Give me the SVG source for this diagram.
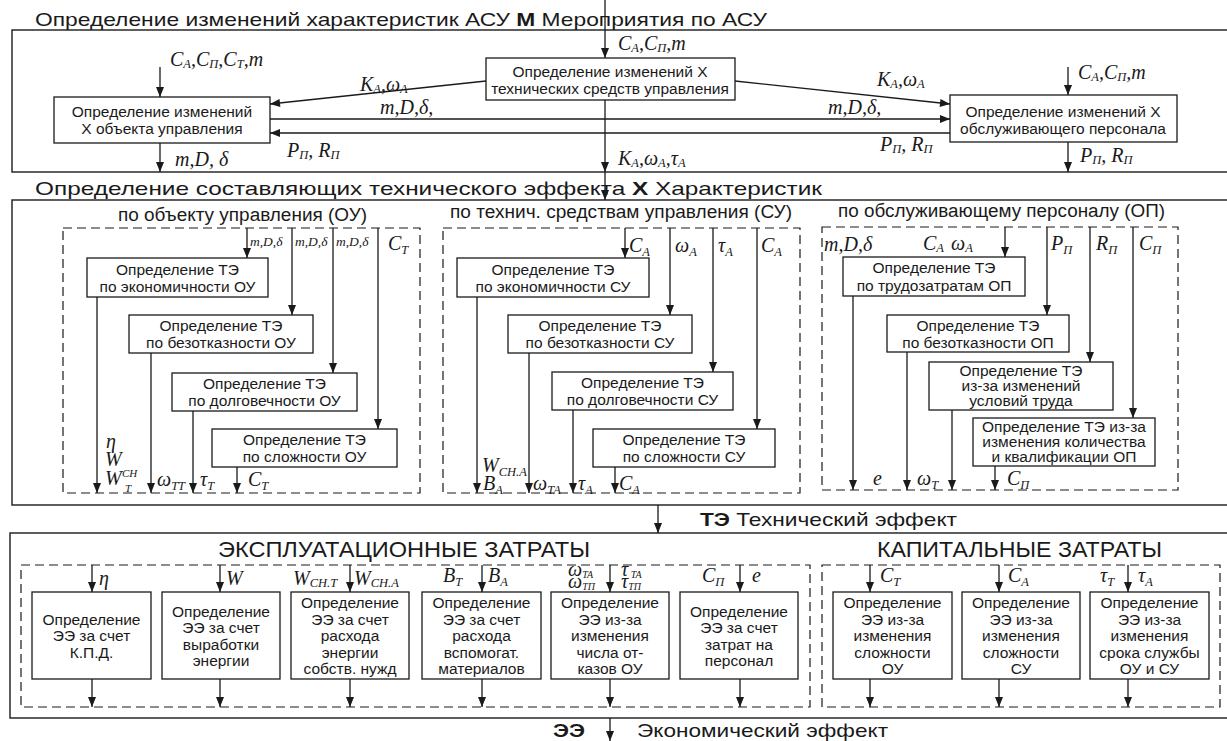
<svg xmlns="http://www.w3.org/2000/svg" width="1227" height="741" viewBox="0 0 1227 741">
<defs>
<style>
.t{font-family:"Liberation Sans",Arial,sans-serif;font-size:15.5px;fill:#1a1a1a;text-anchor:middle}
.h{font-family:"Liberation Sans",Arial,sans-serif;font-size:19px;fill:#1a1a1a}
.h2{font-family:"Liberation Sans",Arial,sans-serif;font-size:18px;fill:#1a1a1a}
.h3{font-family:"Liberation Sans",Arial,sans-serif;font-size:22px;fill:#1a1a1a}
.b{font-weight:bold}
.m{font-family:"Liberation Serif","DejaVu Serif",serif;font-style:italic;font-size:20px;fill:#1a1a1a}
.ms{font-size:13.5px}
.s{font-size:12.5px;baseline-shift:-2px}
.s2{font-size:12.5px;baseline-shift:-4px}
.s3{font-size:10px;baseline-shift:-2px}
.box{fill:#fff;stroke:#1a1a1a;stroke-width:1.3}
.frame{fill:none;stroke:#1a1a1a;stroke-width:1.4}
.dash{fill:none;stroke:#1a1a1a;stroke-width:1.2;stroke-dasharray:9 5}
.ar{fill:none;stroke:#1a1a1a;stroke-width:1.3;marker-end:url(#a)}
</style>
<marker id="a" viewBox="0 0 10 8" refX="10" refY="4" markerWidth="11" markerHeight="8" orient="auto" markerUnits="userSpaceOnUse"><path d="M0,0 L10,4 L0,8 z" fill="#1a1a1a"/></marker>
</defs>
<rect width="1227" height="741" fill="#fff"/>

<g id="frames">
<rect class="frame" x="12" y="30" width="1225" height="142"/>
<rect class="frame" x="12" y="200" width="1225" height="305"/>
<rect class="frame" x="10" y="533" width="1227" height="185"/>
<rect class="dash" x="63" y="228" width="357" height="265"/>
<rect class="dash" x="443" y="228" width="357" height="265"/>
<rect class="dash" x="822" y="227" width="356" height="263"/>
<rect class="dash" x="21" y="565" width="789" height="142"/>
<rect class="dash" x="822" y="565" width="398" height="142"/>
</g>

<g id="headings">
<text class="h" x="35" y="26" textLength="732" lengthAdjust="spacingAndGlyphs">Определение изменений характеристик АСУ <tspan class="b">М</tspan> Мероприятия по АСУ</text>
<text class="h" x="35" y="195" textLength="787" lengthAdjust="spacingAndGlyphs">Определение составляющих технического эффекта <tspan class="b">Х</tspan> Характеристик</text>
<text class="h2" x="118" y="221" textLength="249" lengthAdjust="spacingAndGlyphs">по объекту управления (ОУ)</text>
<text class="h2" x="450" y="218" textLength="342" lengthAdjust="spacingAndGlyphs">по технич. средствам управления (СУ)</text>
<text class="h2" x="838" y="217" textLength="327" lengthAdjust="spacingAndGlyphs">по обслуживающему персоналу (ОП)</text>
<text class="h" x="700" y="526" textLength="257" lengthAdjust="spacingAndGlyphs"><tspan class="b">ТЭ</tspan> Технический эффект</text>
<text class="h3" x="218" y="557" textLength="372" lengthAdjust="spacingAndGlyphs">ЭКСПЛУАТАЦИОННЫЕ ЗАТРАТЫ</text>
<text class="h3" x="877" y="557" textLength="285" lengthAdjust="spacingAndGlyphs">КАПИТАЛЬНЫЕ ЗАТРАТЫ</text>
<text class="h b" x="553" y="737" textLength="32" lengthAdjust="spacingAndGlyphs">ЭЭ</text>
<text class="h" x="637" y="737" textLength="251" lengthAdjust="spacingAndGlyphs">Экономический эффект</text>
</g>

<g id="n-obj-x"><rect class="box" x="54" y="97" width="216" height="46"/><text class="t" x="162" y="117">Определение изменений</text><text class="t" x="162" y="134">Х объекта управления</text></g>
<g id="n-tsu-x"><rect class="box" x="486" y="58" width="249" height="42"/><text class="t" x="610" y="77">Определение изменений Х</text><text class="t" x="610" y="94">технических средств управления</text></g>
<g id="n-op-x"><rect class="box" x="950" y="95" width="227" height="47"/><text class="t" x="1063" y="117">Определение изменений Х</text><text class="t" x="1063" y="134">обслуживающего персонала</text></g>

<g id="n-ou-1"><rect class="box" x="87" y="258" width="181" height="39"/><text class="t" x="177.5" y="275">Определение ТЭ</text><text class="t" x="177.5" y="292">по экономичности ОУ</text></g>
<g id="n-ou-2"><rect class="box" x="129" y="315" width="184" height="38"/><text class="t" x="221" y="331">Определение ТЭ</text><text class="t" x="221" y="348">по безотказности ОУ</text></g>
<g id="n-ou-3"><rect class="box" x="172" y="373" width="185" height="38"/><text class="t" x="264.5" y="389">Определение ТЭ</text><text class="t" x="264.5" y="406">по долговечности ОУ</text></g>
<g id="n-ou-4"><rect class="box" x="212" y="429" width="185" height="38"/><text class="t" x="304.5" y="445">Определение ТЭ</text><text class="t" x="304.5" y="462">по сложности ОУ</text></g>

<g id="n-su-1"><rect class="box" x="457" y="258" width="192" height="39"/><text class="t" x="553" y="275">Определение ТЭ</text><text class="t" x="553" y="292">по экономичности СУ</text></g>
<g id="n-su-2"><rect class="box" x="508" y="315" width="184" height="38"/><text class="t" x="600" y="331">Определение ТЭ</text><text class="t" x="600" y="348">по безотказности СУ</text></g>
<g id="n-su-3"><rect class="box" x="552" y="372" width="181" height="38"/><text class="t" x="642.5" y="388">Определение ТЭ</text><text class="t" x="642.5" y="405">по долговечности СУ</text></g>
<g id="n-su-4"><rect class="box" x="593" y="429" width="182" height="38"/><text class="t" x="684" y="445">Определение ТЭ</text><text class="t" x="684" y="462">по сложности СУ</text></g>

<g id="n-op-1"><rect class="box" x="843" y="257" width="182" height="39"/><text class="t" x="934" y="273">Определение ТЭ</text><text class="t" x="934" y="291">по трудозатратам ОП</text></g>
<g id="n-op-2"><rect class="box" x="887" y="315" width="182" height="37"/><text class="t" x="978" y="331">Определение ТЭ</text><text class="t" x="978" y="348">по безотказности ОП</text></g>
<g id="n-op-3"><rect class="box" x="929" y="362" width="184" height="48"/><text class="t" x="1021" y="376">Определение ТЭ</text><text class="t" x="1021" y="391">из-за изменений</text><text class="t" x="1021" y="406">условий труда</text></g>
<g id="n-op-4"><rect class="box" x="973" y="418" width="182" height="48"/><text class="t" x="1064" y="432">Определение ТЭ из-за</text><text class="t" x="1064" y="447">изменения количества</text><text class="t" x="1064" y="462">и квалификации ОП</text></g>

<g id="n-ee-1"><rect class="box" x="32" y="592" width="119" height="87"/><text class="t" x="91.5" y="625">Определение</text><text class="t" x="91.5" y="641">ЭЭ за счет</text><text class="t" x="91.5" y="658">К.П.Д.</text></g>
<g id="n-ee-2"><rect class="box" x="162" y="592" width="118" height="87"/><text class="t" x="221" y="617">Определение</text><text class="t" x="221" y="633">ЭЭ за счет</text><text class="t" x="221" y="650">выработки</text><text class="t" x="221" y="666">энергии</text></g>
<g id="n-ee-3"><rect class="box" x="291" y="592" width="118" height="87"/><text class="t" x="350" y="608">Определение</text><text class="t" x="350" y="624.5">ЭЭ за счет</text><text class="t" x="350" y="641">расхода</text><text class="t" x="350" y="657.5">энергии</text><text class="t" x="350" y="674">собств. нужд</text></g>
<g id="n-ee-4"><rect class="box" x="422" y="592" width="119" height="87"/><text class="t" x="481.5" y="608">Определение</text><text class="t" x="481.5" y="624.5">ЭЭ за счет</text><text class="t" x="481.5" y="641">расхода</text><text class="t" x="481.5" y="657.5">вспомогат.</text><text class="t" x="481.5" y="674">материалов</text></g>
<g id="n-ee-5"><rect class="box" x="551" y="592" width="118" height="87"/><text class="t" x="610" y="608">Определение</text><text class="t" x="610" y="624.5">ЭЭ из-за</text><text class="t" x="610" y="641">изменения</text><text class="t" x="610" y="657.5">числа от-</text><text class="t" x="610" y="674">казов ОУ</text></g>
<g id="n-ee-6"><rect class="box" x="680" y="592" width="118" height="87"/><text class="t" x="739" y="617">Определение</text><text class="t" x="739" y="633">ЭЭ за счет</text><text class="t" x="739" y="650">затрат на</text><text class="t" x="739" y="666">персонал</text></g>

<g id="n-ke-1"><rect class="box" x="833" y="592" width="119" height="87"/><text class="t" x="892.5" y="608">Определение</text><text class="t" x="892.5" y="624.5">ЭЭ из-за</text><text class="t" x="892.5" y="641">изменения</text><text class="t" x="892.5" y="657.5">сложности</text><text class="t" x="892.5" y="674">ОУ</text></g>
<g id="n-ke-2"><rect class="box" x="962" y="592" width="118" height="87"/><text class="t" x="1021" y="608">Определение</text><text class="t" x="1021" y="624.5">ЭЭ из-за</text><text class="t" x="1021" y="641">изменения</text><text class="t" x="1021" y="657.5">сложности</text><text class="t" x="1021" y="674">СУ</text></g>
<g id="n-ke-3"><rect class="box" x="1090" y="592" width="119" height="87"/><text class="t" x="1149.5" y="608">Определение</text><text class="t" x="1149.5" y="624.5">ЭЭ из-за</text><text class="t" x="1149.5" y="641">изменения</text><text class="t" x="1149.5" y="657.5">срока службы</text><text class="t" x="1149.5" y="674">ОУ и СУ</text></g>

<g id="connectors">
<path class="ar" d="M605,0 V58"/>
<path class="ar" d="M605,100 V172"/>
<path class="ar" d="M605,172 V200"/>
<path class="ar" d="M160,67 V97"/>
<path class="ar" d="M160,143 V172"/>
<path class="ar" d="M486,81 L270,104"/>
<path class="ar" d="M270,119 H950"/>
<path class="ar" d="M950,133 H270"/>
<path class="ar" d="M735,81 L950,104"/>
<path class="ar" d="M1068,67 V95"/>
<path class="ar" d="M1068,142 V172"/>

<path class="ar" d="M247,228 V258"/>
<path class="ar" d="M292,228 V315"/>
<path class="ar" d="M333,228 V373"/>
<path class="ar" d="M378,228 V429"/>
<path class="ar" d="M97,297 V493"/>
<path class="ar" d="M151,353 V493"/>
<path class="ar" d="M193,411 V493"/>
<path class="ar" d="M237,467 V493"/>

<path class="ar" d="M625,228 V258"/>
<path class="ar" d="M670,228 V315"/>
<path class="ar" d="M713,228 V372"/>
<path class="ar" d="M757,228 V429"/>
<path class="ar" d="M477,297 V493"/>
<path class="ar" d="M529,353 V493"/>
<path class="ar" d="M573,410 V493"/>
<path class="ar" d="M615,467 V493"/>

<path class="ar" d="M1005,227 V257"/>
<path class="ar" d="M1047,227 V315"/>
<path class="ar" d="M1090,227 V362"/>
<path class="ar" d="M1133,227 V418"/>
<path class="ar" d="M853,296 V490"/>
<path class="ar" d="M907,352 V490"/>
<path class="ar" d="M952,410 V490"/>
<path class="ar" d="M995,466 V490"/>

<path class="ar" d="M658,505 V533"/>

<path class="ar" d="M92,565 V592"/>
<path class="ar" d="M220,565 V592"/>
<path class="ar" d="M350,565 V592"/>
<path class="ar" d="M482,565 V592"/>
<path class="ar" d="M610,565 V592"/>
<path class="ar" d="M740,565 V592"/>
<path class="ar" d="M870,565 V592"/>
<path class="ar" d="M999,565 V592"/>
<path class="ar" d="M1128,565 V592"/>
<path class="ar" d="M92,679 V707"/>
<path class="ar" d="M220,679 V707"/>
<path class="ar" d="M350,679 V707"/>
<path class="ar" d="M482,679 V707"/>
<path class="ar" d="M610,679 V707"/>
<path class="ar" d="M740,679 V707"/>
<path class="ar" d="M870,679 V707"/>
<path class="ar" d="M999,679 V707"/>
<path class="ar" d="M1128,679 V707"/>

<path class="ar" d="M610,718 V741"/>
</g>

<g id="labels">
<text class="m" x="170" y="66">C<tspan class="s">А</tspan>,C<tspan class="s">П</tspan>,C<tspan class="s">Т</tspan>,m</text>
<text class="m" x="618" y="50">C<tspan class="s">А</tspan>,C<tspan class="s">П</tspan>,m</text>
<text class="m" x="360" y="91">K<tspan class="s">А</tspan>,ω<tspan class="s">А</tspan></text>
<text class="m" x="380" y="114">m,D,δ,</text>
<text class="m" x="287" y="157">P<tspan class="s">П</tspan>, R<tspan class="s">П</tspan></text>
<text class="m" x="175" y="166">m,D, δ</text>
<text class="m" x="877" y="86">K<tspan class="s">А</tspan>,ω<tspan class="s">А</tspan></text>
<text class="m" x="828" y="114">m,D,δ,</text>
<text class="m" x="880" y="151">P<tspan class="s">П</tspan>, R<tspan class="s">П</tspan></text>
<text class="m" x="618" y="165">K<tspan class="s">А</tspan>,ω<tspan class="s">А</tspan>,τ<tspan class="s">А</tspan></text>
<text class="m" x="1078" y="79">C<tspan class="s">А</tspan>,C<tspan class="s">П</tspan>,m</text>
<text class="m" x="1080" y="162">P<tspan class="s">П</tspan>, R<tspan class="s">П</tspan></text>

<text class="m ms" x="250" y="246">m,D,δ</text>
<text class="m ms" x="295" y="246">m,D,δ</text>
<text class="m ms" x="336" y="246">m,D,δ</text>
<text class="m" x="388" y="250">C<tspan class="s2">T</tspan></text>
<text class="m"><tspan x="106" y="448">η</tspan><tspan x="105" y="466">W</tspan><tspan x="105" y="485">W</tspan><tspan x="122" y="477" font-size="11">CH</tspan><tspan x="125" y="492" font-size="11">T</tspan></text>
<text class="m" x="157" y="486">ω<tspan class="s2">TT</tspan></text>
<text class="m" x="200" y="486">τ<tspan class="s2">T</tspan></text>
<text class="m" x="248" y="486">C<tspan class="s2">T</tspan></text>

<text class="m" x="629" y="252">C<tspan class="s2">A</tspan></text>
<text class="m" x="675" y="252">ω<tspan class="s2">A</tspan></text>
<text class="m" x="718" y="252">τ<tspan class="s2">A</tspan></text>
<text class="m" x="761" y="252">C<tspan class="s2">A</tspan></text>
<text class="m" x="482" y="472">W<tspan class="s2">CH.A</tspan></text>
<text class="m" x="483" y="490">B<tspan class="s2">A</tspan></text>
<text class="m" x="533" y="490">ω<tspan class="s2">TA</tspan></text>
<text class="m" x="578" y="490">τ<tspan class="s2">A</tspan></text>
<text class="m" x="619" y="490">C<tspan class="s2">A</tspan></text>

<text class="m" x="824" y="251">m,D,δ</text>
<text class="m" x="923" y="250">C<tspan class="s">А</tspan></text>
<text class="m" x="951" y="250">ω<tspan class="s">А</tspan></text>
<text class="m" x="1051" y="250">P<tspan class="s2">П</tspan></text>
<text class="m" x="1096" y="250">R<tspan class="s2">П</tspan></text>
<text class="m" x="1139" y="250">C<tspan class="s2">П</tspan></text>
<text class="m" x="873" y="485">e</text>
<text class="m" x="917" y="485">ω<tspan class="s2">T</tspan></text>
<text class="m" x="1007" y="485">C<tspan class="s2">П</tspan></text>

<text class="m" x="99" y="585">η</text>
<text class="m" x="226" y="585">W</text>
<text class="m" x="293" y="585">W<tspan class="s">CH.T</tspan></text>
<text class="m" x="354" y="585">W<tspan class="s">CH.A</tspan></text>
<text class="m" x="443" y="582">B<tspan class="s2">T</tspan></text>
<text class="m" x="488" y="582">B<tspan class="s2">A</tspan></text>
<text class="m" font-size="15"><tspan x="568" y="576">ω</tspan><tspan class="s3">TA</tspan><tspan x="568" y="588">ω</tspan><tspan class="s3">TП</tspan></text>
<text class="m" font-size="15"><tspan x="621" y="576">τ</tspan><tspan class="s3"> TA</tspan><tspan x="621" y="588">τ</tspan><tspan class="s3">TП</tspan></text>
<text class="m" x="702" y="582">C<tspan class="s2">П</tspan></text>
<text class="m" x="752" y="582">e</text>
<text class="m" x="880" y="582">C<tspan class="s2">T</tspan></text>
<text class="m" x="1008" y="582">C<tspan class="s2">A</tspan></text>
<text class="m" x="1100" y="582">τ<tspan class="s2">T</tspan></text>
<text class="m" x="1138" y="582">τ<tspan class="s2">A</tspan></text>
</g>
</svg>
